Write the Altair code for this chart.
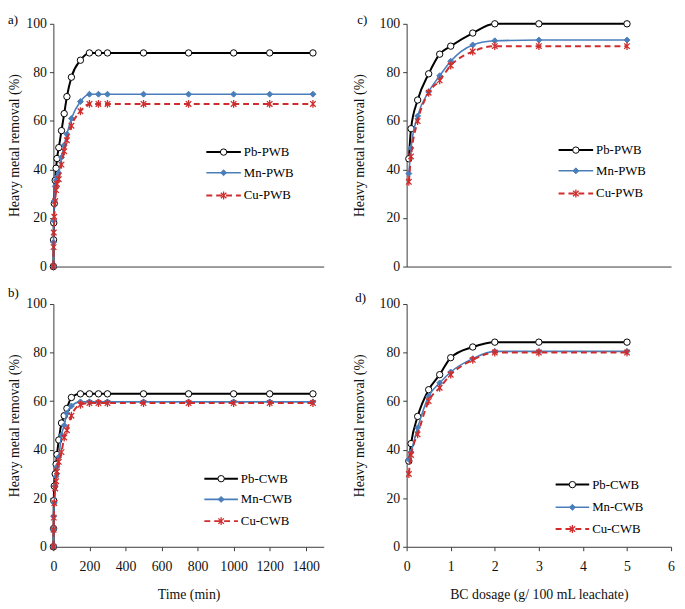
import altair as alt
import pandas as pd

# ---------------- data ----------------
time_min = [0, 1, 2, 5, 10, 15, 20, 30, 45, 60, 75, 100, 150, 200, 250, 300, 500, 750, 1000, 1200, 1440]
pb_pwb_t = [0, 11, 18, 26, 35.5, 40.5, 44.5, 49, 56, 63, 70, 78, 85, 88, 88, 88, 88, 88, 88, 88, 88]
mn_pwb_t = [0, 10, 19, 27, 33, 35.5, 37, 38.5, 45, 50, 54.5, 61, 68, 71, 71, 71, 71, 71, 71, 71, 71]
cu_pwb_t = [0, 8, 14, 20.5, 27, 31.5, 34, 36, 42, 47.5, 52, 58, 64, 67, 67, 67, 67, 67, 67, 67, 67]

pb_cwb_t = [0, 7.5, 19, 25, 30, 34, 38, 44, 51, 54, 57, 61.5, 63, 63, 63, 63, 63, 63, 63, 63, 63]
mn_cwb_t = [0, 7, 12.5, 18, 25, 29, 33, 37, 46, 50, 55, 58, 59.7, 59.7, 59.7, 59.7, 59.7, 59.7, 59.7, 59.7, 59.7]
cu_cwb_t = [0, 7, 12, 18, 24, 27, 31, 35, 39, 45, 48, 54, 58.5, 59.2, 59.2, 59.2, 59.2, 59.2, 59.2, 59.2, 59.2]

dosage = [0.05, 0.1, 0.25, 0.5, 0.75, 1, 1.5, 2, 3, 5]
pb_pwb_d = [44.4, 56.8, 68.6, 79.4, 87.5, 90.8, 96.2, 100, 100, 100]
mn_pwb_d = [38.3, 48.8, 62, 72, 78.6, 84.6, 91.3, 93, 93.3, 93.3]
cu_pwb_d = [34.9, 45.4, 59.9, 71.6, 76.7, 82.8, 88.6, 90.8, 90.8, 90.8]

pb_cwb_d = [35.3, 42.5, 53.7, 64.7, 70.9, 77.9, 82.3, 84.3, 84.3, 84.3]
mn_cwb_d = [36, 39, 49, 62, 67.5, 72, 77.5, 80.5, 80.5, 80.5]
cu_cwb_d = [30, 37.8, 46.3, 60, 65.5, 70.9, 77, 80, 80, 80]

pwb_names = ["Pb-PWB", "Mn-PWB", "Cu-PWB"]
cwb_names = ["Pb-CWB", "Mn-CWB", "Cu-CWB"]
time_ticks = [0, 200, 400, 600, 800, 1000, 1200, 1400]
dose_ticks = [0, 1, 2, 3, 4, 5, 6]
y_ticks = [0, 20, 40, 60, 80, 100]

# ---------------- styles ----------------
FONT = "Liberation Serif, Times New Roman, Times, serif"
STAR = "M-0.7,-0.7L0.7,0.7M-0.7,0.7L0.7,-0.7M0,-1L0,1"
STYLES = [
    dict(color="#000000", width=2.0, dash=None, shape="circle", size=42, filled=True, fill="#ffffff", sw=1.0),
    dict(color="#4a7ebb", width=1.6, dash=None, shape="diamond", size=36, filled=True, fill="#4a7ebb", sw=1.0),
    dict(color="#cf2d2d", width=2.0, dash=[6, 4], shape=STAR, size=64, filled=False, fill=None, sw=1.3),
]

W1, W2, H = 274, 268, 246


def panel(xvals, series, names, xdomain, xticks, bottom, xtitle, letter, letter_pos,
          leg_x, leg_rows, width, ytitle_pad):
    rows = []
    for name, vals in zip(names, series):
        for xv, yv in zip(xvals, vals):
            rows.append({"x": xv, "y": yv, "series": name})
    df = pd.DataFrame(rows)

    if bottom:
        xaxis = alt.Axis(values=xticks, tickCount=len(xticks), title=xtitle, tickSize=4,
                         labelPadding=9, titlePadding=14, labelFlush=False,
                         labelOverlap=False, format="d")
    else:
        xaxis = alt.Axis(values=xticks, tickCount=len(xticks), labels=False, ticks=False,
                         title=None)
    yaxis = alt.Axis(values=y_ticks, title="Heavy metal removal (%)", tickSize=4,
                     labelPadding=3, titlePadding=ytitle_pad, format="d",
                     labelOverlap=False)

    X = alt.X("x:Q", scale=alt.Scale(domain=xdomain, nice=False, zero=False), axis=xaxis)
    Y = alt.Y("y:Q", scale=alt.Scale(domain=[0, 100], nice=False), axis=yaxis)

    layers = []
    for i, name in enumerate(names):
        st = STYLES[i]
        src = alt.Chart(df).transform_filter(alt.datum.series == name)
        lkw = dict(color=st["color"], strokeWidth=st["width"], interpolate="monotone")
        if st["dash"]:
            lkw["strokeDash"] = st["dash"]
        layers.append(src.mark_line(**lkw).encode(x=X, y=Y))
        pkw = dict(shape=st["shape"], size=st["size"], stroke=st["color"], strokeWidth=st["sw"],
                   filled=st["filled"], opacity=1)
        if st["fill"]:
            pkw["fill"] = st["fill"]
        layers.append(src.mark_point(**pkw).encode(x=X, y=Y))

        # legend entry
        ldf = pd.DataFrame({"series": [name]})
        lg = alt.Chart(ldf)
        rkw = dict(color=st["color"], strokeWidth=st["width"])
        if st["dash"]:
            rkw["strokeDash"] = st["dash"]
        layers.append(lg.mark_rule(**rkw).encode(
            x=alt.value(leg_x[0]), x2=alt.value(leg_x[1]), y=alt.value(leg_rows[i])))
        layers.append(lg.mark_point(**pkw).encode(
            x=alt.value((leg_x[0] + leg_x[1]) / 2), y=alt.value(leg_rows[i])))
        layers.append(lg.mark_text(align="left", baseline="middle", font=FONT, fontSize=13,
                                   color="#000000").encode(
            x=alt.value(leg_x[1] + 3), y=alt.value(leg_rows[i]), text="series:N"))

    tdf = pd.DataFrame({"label": [letter]})
    layers.append(alt.Chart(tdf).mark_text(align="left", baseline="alphabetic", font=FONT,
                                           fontSize=13, color="#000000").encode(
        x=alt.value(letter_pos[0]), y=alt.value(letter_pos[1]), text="label:N"))

    return alt.layer(*layers).properties(width=width, height=H)


pa = panel(time_min, [pb_pwb_t, mn_pwb_t, cu_pwb_t], pwb_names, [0, 1500], time_ticks, False,
           "Time (min)", "a)", (-46, 0), (155, 190), [130, 151, 174], W1, 4)
pb = panel(time_min, [pb_cwb_t, mn_cwb_t, cu_cwb_t], cwb_names, [0, 1500], time_ticks, True,
           "Time (min)", "b)", (-46, -7), (153, 187), [177, 198, 220], W1, 4)
pc = panel(dosage, [pb_pwb_d, mn_pwb_d, cu_pwb_d], pwb_names, [0, 6], dose_ticks, False,
           "BC dosage (g/ 100 mL leachate)", "c)", (-50, 0), (154, 189), [128, 149, 172], W2, 13)
pd_ = panel(dosage, [pb_cwb_d, mn_cwb_d, cu_cwb_d], cwb_names, [0, 6], dose_ticks, True,
            "BC dosage (g/ 100 mL leachate)", "d)", (-52, -2), (151, 185), [183, 206, 228], W2, 13)

chart = alt.concat(pa, pc, pb, pd_, columns=2, spacing={"row": 38, "column": 84},
                   bounds="flush").properties(
    padding={"left": 0, "top": 2, "right": 2, "bottom": 1}
).configure_view(stroke=None).configure_axis(
    grid=False, domainColor="#3a3a3a", tickColor="#3a3a3a", domainWidth=1,
    labelFont=FONT, labelFontSize=14, labelColor="#111111",
    titleFont=FONT, titleFontSize=14, titleFontWeight="normal", titleColor="#111111",
)

chart.save("out.html", embed_options={"renderer": "svg", "actions": False})
